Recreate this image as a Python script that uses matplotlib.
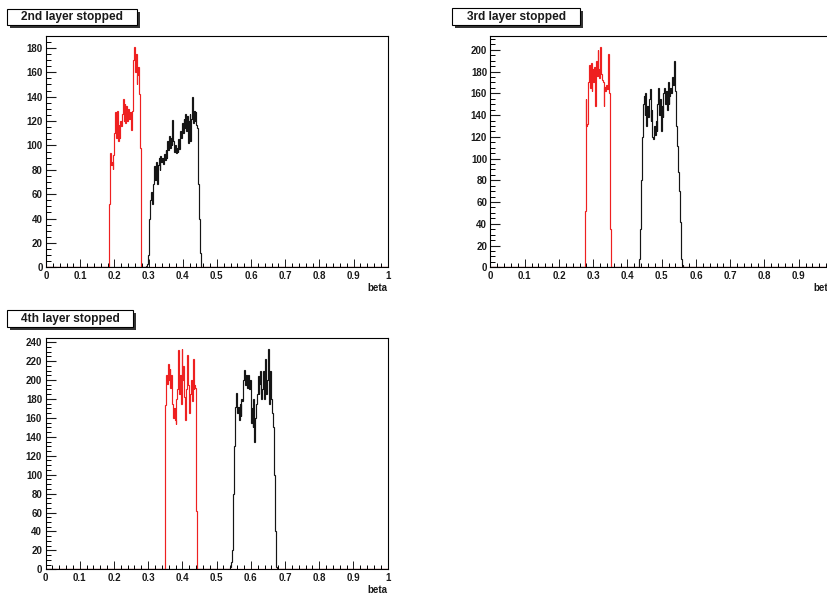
import matplotlib
matplotlib.use('Agg')
import matplotlib.pyplot as plt
import numpy as np
from matplotlib.patches import Rectangle
from matplotlib.ticker import MultipleLocator, FuncFormatter

plt.rcParams['font.family'] = ['Liberation Sans', 'DejaVu Sans']
plt.rcParams['font.weight'] = 'bold'

W, H = 827, 595
BIN = 0.0025   # 400 bins on [0, 1]
NBINS = 400

# ---- 2nd layer stopped ----
red2_start = 0.185
red2 = [52, 94, 84, 86, 81, 92, 110, 127, 106, 128, 104, 117, 106, 120, 116, 126,
        138, 120, 134, 118, 132, 120, 130, 122, 127, 118, 113, 128, 170, 181, 160,
        175, 150, 158, 164, 142, 98]
black2_start = 0.2925
black2 = [1, 3, 10, 24, 40, 55, 62, 52, 68, 76, 83, 72, 86, 68, 84, 90, 80, 91, 86, 90,
          85, 93, 88, 96, 90, 104, 96, 108, 98, 106, 100, 121, 104, 95, 100, 94, 98, 95,
          105, 97, 112, 106, 118, 110, 122, 114, 126, 112, 124, 102, 120, 126, 104, 122,
          140, 118, 128, 120, 127, 117, 114, 68, 40, 12, 2]

# ---- 3rd layer stopped ----
red3_start = 0.275
red3 = [52, 155, 130, 132, 170, 186, 165, 188, 162, 182, 170, 184, 148, 190, 176, 200,
        182, 174, 203, 178, 172, 170, 148, 166, 162, 168, 164, 196, 160, 160, 35]
black3_start = 0.4325
black3 = [2, 8, 35, 80, 120, 150, 158, 140, 160, 130, 148, 138, 155, 164, 135, 145, 120,
          118, 130, 122, 135, 125, 150, 165, 140, 155, 125, 148, 138, 160, 165, 150, 162,
          145, 170, 150, 158, 165, 160, 175, 168, 190, 170, 162, 130, 112, 88, 70, 42, 20,
          8, 2]

# ---- 4th layer stopped ----
red4_start = 0.35
red4 = [174, 205, 196, 217, 200, 212, 192, 205, 175, 160, 170, 158, 154, 180, 190, 232,
        185, 205, 175, 233, 200, 215, 182, 158, 190, 226, 200, 195, 165, 185, 200, 178,
        222, 190, 195, 192, 62]
black4_start = 0.54
black4 = [2, 8, 20, 80, 130, 155, 172, 186, 165, 172, 158, 175, 162, 180, 178, 200, 211,
          195, 205, 198, 192, 205, 190, 200, 155, 170, 150, 180, 134, 160, 175, 185, 204,
          185, 196, 210, 180, 190, 210, 180, 195, 222, 185, 200, 233, 175, 195, 210, 180,
          165, 150, 100, 40, 8, 2]

titles = ['2nd layer stopped', '3rd layer stopped', '4th layer stopped']
y_max = [190, 213, 244.7]

edges = np.linspace(0, 1, NBINS + 1)


def filled(start, counts):
    h = np.zeros(NBINS)
    i0 = int(round(start / BIN))
    h[i0:i0 + len(counts)] = counts
    return h


def px_axes(fig, left, top, right, bottom):
    return fig.add_axes([left / W, 1 - bottom / H, (right - left) / W, (bottom - top) / H])


def title_box(fig, x0, y0, x1, y1, text):
    sh = 3
    fig.add_artist(Rectangle((x0 / W + sh / W, 1 - (y1 + sh) / H), (x1 - x0) / W, (y1 - y0) / H,
                             transform=fig.transFigure, fc='#333333', ec='none'))
    fig.add_artist(Rectangle((x0 / W, 1 - y1 / H), (x1 - x0) / W, (y1 - y0) / H,
                             transform=fig.transFigure, fc='white', ec='black', lw=0.8))
    fig.text((x0 + x1) / 2 / W, 1 - (y1 - 4.8) / H, text, ha='center', va='baseline',
             fontsize=8.6, fontweight='bold', color='#1a1a1a')


fig = plt.figure(figsize=(W / 100, H / 100), dpi=100)

panels = [
    ((46, 35.7, 387.7, 267.3), (7.3, 9.3, 137, 25), red2_start, red2, black2_start, black2),
    ((490.5, 35.7, 833, 267.3), (452.3, 8.3, 580, 25), red3_start, red3, black3_start, black3),
    ((45.5, 337.7, 387.7, 569.3), (7.3, 310, 133.3, 326.7), red4_start, red4, black4_start, black4),
]

for i, (apos, tpos, rs, rv, bs, bv) in enumerate(panels):
    ax = px_axes(fig, *apos)
    ax.stairs(filled(bs, bv), edges, color='#151515', lw=0.85)
    ax.stairs(filled(rs, rv), edges, color='#ee2020', lw=0.85)
    ax.set_xlim(0, 1)
    ax.set_ylim(0, y_max[i])

    ax.xaxis.set_major_locator(MultipleLocator(0.1))
    ax.xaxis.set_minor_locator(MultipleLocator(0.02))
    ax.yaxis.set_major_locator(MultipleLocator(20))
    ax.yaxis.set_minor_locator(MultipleLocator(5))
    ax.xaxis.set_major_formatter(FuncFormatter(lambda v, p: '%g' % round(v, 2)))
    ax.yaxis.set_major_formatter(FuncFormatter(lambda v, p: '%d' % v))

    ax.tick_params(axis='x', which='major', direction='in', length=5.5, width=0.7,
                   labelsize=7, pad=3, colors='#1a1a1a')
    ax.tick_params(axis='x', which='minor', direction='in', length=3, width=0.7)
    ax.tick_params(axis='y', which='major', direction='in', length=7.5, width=0.8,
                   labelsize=7, pad=2.5, colors='#1a1a1a')
    ax.tick_params(axis='y', which='minor', direction='in', length=3.8, width=0.7)
    for lab in ax.get_xticklabels() + ax.get_yticklabels():
        lab.set_fontweight('bold')
    for sp in ax.spines.values():
        sp.set_linewidth(0.8)
        sp.set_color('black')

    ax.annotate('beta', xy=(1, 0), xycoords='axes fraction', xytext=(0, -11),
                textcoords='offset points', ha='right', va='top',
                fontsize=7, fontweight='bold', color='#1a1a1a')

    title_box(fig, *tpos, titles[i])

fig.savefig('out.png', dpi=100)
